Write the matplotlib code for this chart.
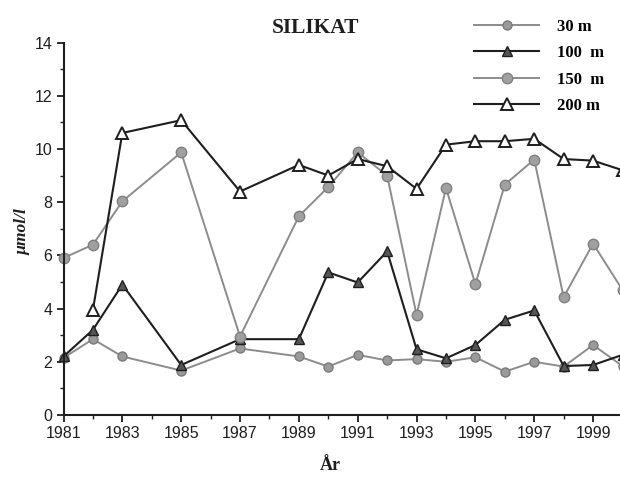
import numpy as np
import matplotlib
matplotlib.use("Agg")
import matplotlib.pyplot as plt
from matplotlib.ticker import MultipleLocator

# Silikat per depth
years = [1981, 1982, 1983, 1985, 1987, 1989, 1990, 1991, 1992, 1993,
         1994, 1995, 1996, 1997, 1998, 1999, 2000]

sil_30 = [2.15, 2.85, 2.2, 1.67, 2.5, 2.2, 1.82, 2.26, 2.05, 2.1,
          2.0, 2.17, 1.63, 2.0, 1.82, 2.63, 1.84]
sil_100 = [2.2, 3.2, 4.9, 1.88, 2.85, 2.85, 5.36, 4.98, 6.15, 2.47,
           2.13, 2.63, 3.58, 3.93, 1.84, 1.88, 2.26]
sil_150 = [5.9, 6.4, 8.03, 9.87, 2.95, 7.47, 8.57, 9.87, 9.0, 3.76,
           8.53, 4.92, 8.66, 9.6, 4.43, 6.44, 4.7]
years_200 = years[1:]
sil_200 = [3.95, 10.6, 11.08, 8.4, 9.4, 9.0, 9.62, 9.35, 8.5,
           10.16, 10.29, 10.29, 10.38, 9.62, 9.56, 9.2]

labels = ["30 m", "100  m", "150  m", "200 m"]

GRAY = "#8c8c8c"
DARK = "#1e1e1e"

fig = plt.figure(figsize=(6.2, 4.79), dpi=100)
ax = fig.add_axes([63.5 / 620, 64 / 479, 559 / 620, 372.5 / 479])

ax.plot(years, sil_30, color=GRAY, lw=1.4, marker="o", ms=6.5,
        mfc="#9a9a9a", mec="#7a7a7a", label=labels[0], clip_on=False)
ax.plot(years, sil_100, color=DARK, lw=1.5, marker="^", ms=7.5,
        mfc="#555555", mec=DARK, label=labels[1], clip_on=False)
ax.plot(years, sil_150, color=GRAY, lw=1.4, marker="o", ms=7.5,
        mfc="#a0a0a0", mec="#808080", label=labels[2], clip_on=False)
ax.plot(years_200, sil_200, color=DARK, lw=1.5, marker="^", ms=9,
        mfc="white", mec=DARK, mew=1.4, label=labels[3], clip_on=False)

ax.set_xlim(1981, 2000)
ax.set_ylim(0, 14)
ax.xaxis.set_major_locator(MultipleLocator(2))
ax.xaxis.set_minor_locator(MultipleLocator(1))
ax.yaxis.set_major_locator(MultipleLocator(2))
ax.yaxis.set_minor_locator(MultipleLocator(1))
ax.set_xticks(range(1981, 2000, 2))

for side in ["top", "right"]:
    ax.spines[side].set_visible(False)
for side in ["left", "bottom"]:
    ax.spines[side].set_linewidth(1.5)
    ax.spines[side].set_color(DARK)

ax.tick_params(which="major", direction="out", length=5, width=1.3,
               colors=DARK, labelsize=11.5, pad=3)
ax.tick_params(which="minor", direction="out", length=3, width=1, colors=DARK)
for lab in ax.get_xticklabels() + ax.get_yticklabels():
    lab.set_family(["Liberation Sans", "DejaVu Sans"])

fig.text(316 / 620, 1 - 28 / 479, "SILIKAT", family="Liberation Serif",
         weight="bold", fontsize=15.5, ha="center", va="center", color=DARK)
fig.text(330 / 620, 1 - 466 / 479, "År", family="Liberation Serif",
         weight="bold", fontsize=13, ha="center", va="center", color=DARK)
fig.text(22 / 620, 1 - 232 / 479, "µmol/l", family="Liberation Serif",
         weight="bold", style="italic", fontsize=12.5, rotation=90,
         ha="center", va="center", color=DARK)

leg = ax.legend(loc="upper left", bbox_to_anchor=(474 / 620, 1 - 19 / 479),
                bbox_transform=fig.transFigure, frameon=False,
                prop={"family": "Liberation Serif", "weight": "bold", "size": 12},
                handlelength=3.9, handletextpad=1.1, labelspacing=0.62,
                borderpad=0, borderaxespad=0)

fig.savefig("out.png", dpi=100)
